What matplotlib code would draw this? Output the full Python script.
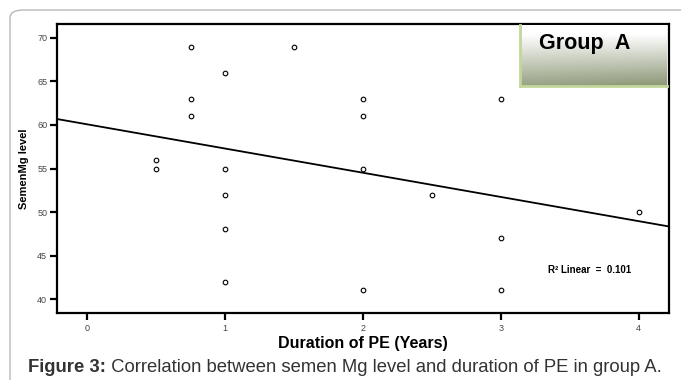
import numpy as np
import matplotlib
matplotlib.use("Agg")
import matplotlib.pyplot as plt
from matplotlib.patches import FancyBboxPatch

plt.rcParams["font.family"] = ["Liberation Sans", "DejaVu Sans"]

# Duration of PE (years) vs semen Mg level, group A
duration = [0.5, 0.5, 0.75, 0.75, 0.75, 1, 1, 1, 1, 1,
            1.5, 2, 2, 2, 2, 2.5, 3, 3, 3, 4]
semen_mg = [56, 55, 69, 63, 61, 66, 55, 52, 48, 42,
            69, 63, 61, 55, 41, 52, 63, 47, 41, 50]
x_ticks = [0, 1, 2, 3, 4]
y_ticks = [40, 45, 50, 55, 60, 65, 70]
r2_label = "R\u00b2 Linear  =  0.101"
group_label = "Group  A"
caption_bold = "Figure 3:"
caption_rest = " Correlation between semen Mg level and duration of PE in group A."

W, H = 681, 380
fig = plt.figure(figsize=(W / 100, H / 100), dpi=100)

# outer rounded frame (cut off at right and bottom)
frame = FancyBboxPatch((10 / W, -0.1), 1.2, 1 - 10 / H + 0.1,
                       boxstyle="round,pad=0,rounding_size=0.02",
                       transform=fig.transFigure, facecolor="none",
                       edgecolor="#b8b8b8", linewidth=1.0)
fig.patches.append(frame)

ax = fig.add_axes([57 / W, 1 - 313 / H, (669 - 57) / W, (313 - 24) / H])
ax.scatter(duration, semen_mg, s=11, facecolors="white", edgecolors="black",
           linewidths=0.8, zorder=3)

xlim = (-0.22, 4.22)
slope, intercept = np.polyfit(duration, semen_mg, 1)
xs = np.array(xlim)
ax.plot(xs, slope * xs + intercept, color="black", linewidth=1.3, zorder=2)

ax.set_xlim(*xlim)
ax.set_ylim(38.4, 71.6)
ax.set_xticks(x_ticks)
ax.set_yticks(y_ticks)
for s in ax.spines.values():
    s.set_linewidth(1.6)
ax.tick_params(axis="both", direction="out", length=5, width=1.6,
               labelsize=6.5, labelcolor="#444444", pad=2)
ax.tick_params(axis="x", pad=3)
ax.set_xlabel("Duration of PE (Years)", fontsize=11.5, fontweight="bold",
              labelpad=2)
ax.set_ylabel("SemenMg level", fontsize=8, fontweight="bold", labelpad=6)

ax.text(3.645, 43.3, r2_label, fontsize=7, fontweight="bold",
        ha="center", va="center")

# "Group A" box with gradient (white on top, olive grey at the bottom)
bx = fig.add_axes([520 / W, 1 - 86 / H, (667 - 520) / W, (86 - 25) / H])
gy = np.clip((np.linspace(0, 1, 256) - 0.15) / 0.85, 0, 1)[:, None]
gx = np.linspace(0, 1, 64)[None, :]
top = np.array([1.0, 1.0, 1.0])
bottom = np.array([0x8f, 0x9a, 0x7a]) / 255
shade = np.clip(gy * (0.92 + 0.12 * gx), 0, 1)
img = top + (bottom - top) * shade[..., None]
bx.imshow(img, aspect="auto", extent=(0, 1, 0, 1))
bx.set_xticks([])
bx.set_yticks([])
for s in bx.spines.values():
    s.set_color("#c3d69b")
    s.set_linewidth(2)
bx.spines["right"].set_visible(False)
bx.spines["top"].set_visible(False)
bx.text(0.44, 0.7, group_label, fontsize=15.5, fontweight="bold",
        ha="center", va="center", transform=bx.transAxes)

# caption
t = fig.text(28 / W, 1 - 367 / H, caption_bold, fontsize=13.3,
             fontweight="bold", color="#333333", va="center")
fig.canvas.draw()
bb = t.get_window_extent()
fig.text(bb.x1 / W, 1 - 367 / H, caption_rest, fontsize=13.3,
         color="#333333", va="center")

fig.savefig("out.png", dpi=100)
